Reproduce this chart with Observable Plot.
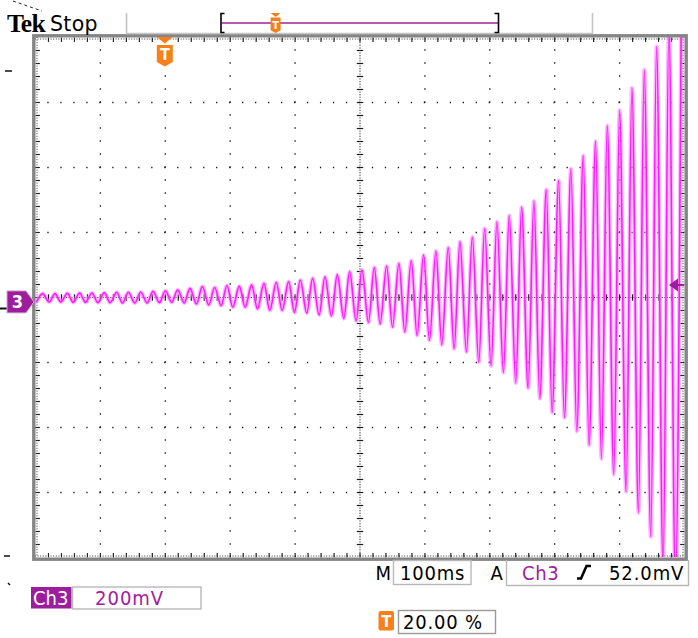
<!DOCTYPE html>
<html>
<head>
<meta charset="utf-8">
<script src="https://cdn.jsdelivr.net/npm/d3@7"></script>
<script src="https://cdn.jsdelivr.net/npm/@observablehq/plot@0.6"></script>
<style>
  body { margin: 0; background: #fff; }
  #chart { position: relative; width: 698px; height: 638px; }
</style>
</head>
<body>
<div id="chart"></div>
<script>
// ---- Ch3 trace: time in ms (100 ms/div, trigger at 0), voltage in mV (200 mV/div)
const peakTimes = [-189, -170, -151, -132, -113, -94, -75, -57, -38, -19,
  0, 19, 38, 57, 76, 95, 114, 133, 152, 171,
  190, 208, 227, 246, 265, 284, 303, 322, 341, 360,
  379, 398, 417, 436, 454, 473, 492, 511, 530, 549,
  568, 587, 606, 625, 644, 663, 681, 700, 719, 738,
  757, 776, 795];
const peakValues = [12, 12, 13, 14, 14, 15, 16, 16, 17, 19,
  21, 24, 28, 34, 31, 37, 35, 39, 44, 47,
  49, 54, 59, 64, 71, 80, 85, 92, 97, 105,
  114, 131, 143, 154, 172, 186, 212, 233, 252, 278,
  297, 332, 360, 396, 437, 481, 529, 577, 645, 701,
  772, 830, 870];
const troughTimes = [-198, -179, -161, -142, -123, -104, -85, -66, -47, -28,
  -9, 10, 29, 48, 67, 86, 104, 123, 142, 161,
  180, 199, 218, 237, 256, 275, 294, 313, 331, 350,
  369, 388, 407, 426, 445, 464, 483, 502, 521, 540,
  559, 577, 596, 615, 634, 653, 672, 691, 710, 729,
  748, 767, 786];
const troughValues = [-12, -14, -14, -15, -15, -16, -16, -17, -17, -17,
  -16, -15, -17, -20, -23, -25, -30, -30, -35, -40,
  -40, -46, -48, -54, -57, -65, -72, -77, -81, -91,
  -106, -117, -132, -146, -158, -168, -199, -210, -231, -263,
  -279, -311, -354, -370, -412, -455, -497, -545, -598, -662,
  -736, -830, -880];

// ---- screen graticule (10 x 8 divisions)
const timeDomain = [-200, 800];
const voltDomain = [-800, 800];
const divTimes = [-100, 0, 100, 200, 400, 500, 600, 700];
const divVolts = [-600, -400, -200, 200, 400, 600];
const centerTime = 300;
const centerVolt = 0;
const minorTimes = d3.range(-180, 800, 20);
const minorVolts = d3.range(-760, 800, 40);

// ---- channel / trigger settings
const groundLevel = -15;     // Ch3 ground marker (mV on screen)
const triggerLevel = 52;     // mV above ground
const triggerTime = 0;
const labelTek = "Tek";
const labelState = "Stop";
const labelTimebase = "100ms";
const labelChannel = "Ch3";
const labelScale = "200mV";
const labelTrigLevel = "52.0mV";
const labelTrigPos = "20.00 %";

const trace = [
  ...peakTimes.map((t, i) => ({t, v: peakValues[i]})),
  ...troughTimes.map((t, i) => ({t, v: troughValues[i]}))
].sort((a, b) => a.t - b.t);

const hDash = {draw(ctx, size) { const r = Math.sqrt(size / Math.PI); ctx.moveTo(-r, 0); ctx.lineTo(r, 0); }};
const vDash = {draw(ctx, size) { const r = Math.sqrt(size / Math.PI); ctx.moveTo(0, -r); ctx.lineTo(0, r); }};

const gridColor = "#1a1a1a";
const PURPLE = "#9c1e9c";
const ORANGE = "#f7801a";

const plot = Plot.plot({
  width: 698,
  height: 638,
  marginLeft: 35,
  marginRight: 14,
  marginTop: 37,
  marginBottom: 81,
  x: {domain: timeDomain, axis: null},
  y: {domain: voltDomain, axis: null},
  style: {background: "white", overflow: "visible"},
  marks: [
    // division dots
    Plot.ruleX(divTimes, {stroke: gridColor, strokeWidth: 1.3, strokeDasharray: "1.3 11.7", strokeDashoffset: 0.65}),
    Plot.ruleY(divVolts, {stroke: gridColor, strokeWidth: 1.3, strokeDasharray: "1.3 11.68", strokeDashoffset: 0.65}),
    // center cross
    Plot.ruleX([centerTime], {stroke: gridColor, strokeWidth: 1.1, strokeDasharray: "1 1.6"}),
    Plot.ruleY([centerVolt], {stroke: gridColor, strokeWidth: 1.1, strokeDasharray: "1 1.6"}),
    Plot.dot(minorVolts, {x: () => centerTime, y: d => d, symbol: hDash, r: 3.2, fill: "none", stroke: gridColor, strokeWidth: 1.2}),
    Plot.dot(minorTimes, {x: d => d, y: () => centerVolt, symbol: vDash, r: 3.2, fill: "none", stroke: gridColor, strokeWidth: 1.2}),
    // frame rulers
    Plot.ruleX([timeDomain[0]], {dx: 1.5, stroke: "#333", strokeDasharray: "1 1.6"}),
    Plot.ruleX([timeDomain[1]], {dx: -1.5, stroke: "#333", strokeDasharray: "1 1.6"}),
    Plot.ruleY([voltDomain[1]], {dy: 1.5, stroke: "#333", strokeDasharray: "1 1.6"}),
    Plot.ruleY([voltDomain[0]], {dy: -1.5, stroke: "#333", strokeDasharray: "1 1.6"}),
    Plot.dot(minorTimes, {x: d => d, frameAnchor: "top", symbol: vDash, r: 2.2, dy: 2.2, fill: "none", stroke: "#222", strokeWidth: 1.2}),
    Plot.dot(minorTimes, {x: d => d, frameAnchor: "bottom", symbol: vDash, r: 2.2, dy: -2.2, fill: "none", stroke: "#222", strokeWidth: 1.2}),
    Plot.dot(minorVolts, {y: d => d, frameAnchor: "left", symbol: hDash, r: 2.2, dx: 2.2, fill: "none", stroke: "#222", strokeWidth: 1.2}),
    Plot.dot(minorVolts, {y: d => d, frameAnchor: "right", symbol: hDash, r: 2.2, dx: -2.2, fill: "none", stroke: "#222", strokeWidth: 1.2}),
    // the waveform
    Plot.line(trace, {x: "t", y: "v", curve: "monotone-x", stroke: "#ff88ff", strokeWidth: 4, strokeOpacity: 0.6, clip: true}),
    Plot.line(trace, {x: "t", y: "v", curve: "monotone-x", stroke: "#ff1bff", strokeWidth: 1.6, clip: true}),
    // bezel
    Plot.frame({stroke: "#858585", strokeWidth: 3.4, inset: -1.7})
  ]
});

document.getElementById("chart").appendChild(plot);

// ---- oscilloscope chrome around the graticule
const sx = plot.scale("x"), sy = plot.scale("y");
const svg = d3.select(plot);
const g = svg.append("g")
  .attr("font-family", "'DejaVu Sans Condensed', 'DejaVu Sans', sans-serif")
  .attr("font-stretch", "condensed")
  .attr("text-anchor", "start");
const FS = 20;

// stray marks on the left edge of the photo
g.append("path").attr("d", "M13,1 L42,11").attr("stroke", "#222").attr("stroke-width", 1).attr("stroke-dasharray", "3 3").attr("fill", "none");
g.append("path").attr("d", "M5,71 H12 M4,556 H10 M8,583 L10,585").attr("stroke", "#111").attr("stroke-width", 1.5).attr("fill", "none");

// header
g.append("text").attr("x", 7).attr("y", 31.5).attr("font-family", "'Liberation Serif', serif").attr("font-weight", "bold")
  .attr("font-size", 25.5).attr("letter-spacing", -0.8).attr("fill", "#000").text(labelTek);
g.append("text").attr("x", 50).attr("y", 30.5).attr("font-family", "'DejaVu Sans', sans-serif").attr("font-stretch", "normal")
  .attr("font-size", 20.5).attr("letter-spacing", 0.3).attr("fill", "#000").text(labelState);
g.append("path").attr("d", "M126.5,13 V33.5 H592.5 V13").attr("stroke", "#c4c4c4").attr("stroke-width", 1.6).attr("fill", "none");

// record bar
g.append("line").attr("x1", 222).attr("x2", 498).attr("y1", 23).attr("y2", 23).attr("stroke", "#b35ab3").attr("stroke-width", 2);
g.append("path").attr("d", "M224.5,13.5 H221 V32.5 H224.5 M494.5,13.5 H498.5 V32.5 H494.5").attr("stroke", "#000").attr("stroke-width", 1.6).attr("fill", "none");
function tMarker(cx, top, w, triH, shieldTop, shieldBot, fs) {
  g.append("path").attr("d", `M${cx - w / 2},${top} H${cx + w / 2} L${cx},${top + triH} Z`).attr("fill", ORANGE);
  g.append("path").attr("d", `M${cx - w / 2},${shieldTop} H${cx + w / 2} V${shieldBot - w * 0.28} L${cx},${shieldBot} L${cx - w / 2},${shieldBot - w * 0.28} Z`).attr("fill", ORANGE);
  g.append("text").attr("x", cx).attr("y", shieldTop + (shieldBot - shieldTop) * 0.72).attr("text-anchor", "middle")
    .attr("font-family", "'DejaVu Sans', sans-serif").attr("font-weight", "bold").attr("font-size", fs).attr("fill", "#fff").text("T");
}
tMarker(275.6, 13, 10, 4, 17.5, 33, 11);
tMarker(sx.apply(triggerTime), 37, 16, 6.5, 45, 66.5, 16);

// channel ground marker
const gy = sy.apply(groundLevel);
g.append("path").attr("d", "M0,308.5 H8").attr("stroke", "#111").attr("stroke-width", 2);
g.append("path").attr("d", `M7,${gy - 11} H26 L34,${gy} L26,${gy + 11} H7 Z`).attr("fill", PURPLE).attr("stroke", "#d6a3d6").attr("stroke-width", 1);
g.append("text").attr("x", 17.5).attr("y", gy + 6.5).attr("text-anchor", "middle").attr("font-family", "'DejaVu Sans', sans-serif")
  .attr("font-weight", "bold").attr("font-size", 18).attr("fill", "#fff").text("3");

// trigger level arrow
const ty = sy.apply(groundLevel + triggerLevel);
g.append("path").attr("d", `M669,${ty} L678,${ty - 6.5} V${ty + 6.5} Z`).attr("fill", PURPLE);
g.append("line").attr("x1", 677).attr("x2", 684).attr("y1", ty).attr("y2", ty).attr("stroke", PURPLE).attr("stroke-width", 2);

// bottom readouts
const BASE1 = 579.5, BASE2 = 604.5, BASE3 = 629;
g.append("text").attr("x", 375.5).attr("y", BASE1).attr("font-size", FS).attr("fill", "#000").text("M");
g.append("rect").attr("x", 393.5).attr("y", 560.5).attr("width", 77.5).attr("height", 24).attr("fill", "none").attr("stroke", "#b8b8b8").attr("stroke-width", 1.4);
g.append("text").attr("x", 400).attr("y", BASE1).attr("font-size", FS).attr("letter-spacing", 0.8).attr("fill", "#000").text(labelTimebase);
g.append("text").attr("x", 490.5).attr("y", BASE1).attr("font-size", FS).attr("fill", "#000").text("A");
g.append("path").attr("d", "M506.5,560 V585.5 H688.5 V560").attr("fill", "none").attr("stroke", "#b8b8b8").attr("stroke-width", 1.4);
g.append("text").attr("x", 522).attr("y", BASE1).attr("font-size", FS).attr("letter-spacing", 0.6).attr("fill", "#a020a0").text(labelChannel);
g.append("path").attr("d", "M577,578.5 H581 L586.5,566 H591").attr("fill", "none").attr("stroke", "#000").attr("stroke-width", 2.6);
g.append("text").attr("x", 609).attr("y", BASE1).attr("font-size", FS).attr("letter-spacing", 0.9).attr("fill", "#000").text(labelTrigLevel);

g.append("rect").attr("x", 31).attr("y", 587).attr("width", 40.5).attr("height", 21.5).attr("fill", PURPLE);
g.append("text").attr("x", 33).attr("y", BASE2).attr("font-size", FS).attr("fill", "#fff").text(labelChannel);
g.append("rect").attr("x", 72.5).attr("y", 587).attr("width", 128.5).attr("height", 22).attr("fill", "none").attr("stroke", "#b8b8b8").attr("stroke-width", 1.4);
g.append("text").attr("x", 95).attr("y", BASE2).attr("font-size", FS).attr("letter-spacing", 1).attr("fill", "#a020a0").text(labelScale);

g.append("rect").attr("x", 378.5).attr("y", 611).attr("width", 15.5).attr("height", 19.5).attr("rx", 2).attr("fill", ORANGE);
g.append("text").attr("x", 386.3).attr("y", 627).attr("text-anchor", "middle").attr("font-family", "'DejaVu Sans', sans-serif")
  .attr("font-weight", "bold").attr("font-size", 16).attr("fill", "#fff").text("T");
g.append("rect").attr("x", 398.5).attr("y", 610.5).attr("width", 97).attr("height", 23).attr("fill", "none").attr("stroke", "#9a9a9a").attr("stroke-width", 1.4);
g.append("text").attr("x", 403).attr("y", BASE3).attr("font-size", FS).attr("letter-spacing", 0.8).attr("fill", "#000").text(labelTrigPos);
</script>
</body>
</html>
